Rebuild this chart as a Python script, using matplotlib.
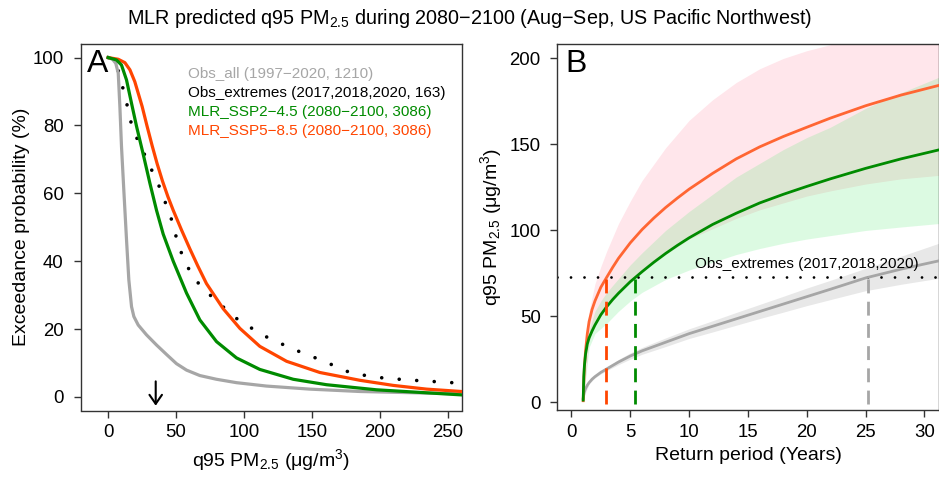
import numpy as np
import matplotlib
matplotlib.use("Agg")
import matplotlib.pyplot as plt

plt.rcParams['font.family'] = ['Liberation Sans', 'DejaVu Sans']
plt.rcParams['mathtext.fontset'] = 'custom'
plt.rcParams['mathtext.rm'] = 'Liberation Sans'
plt.rcParams['mathtext.it'] = 'Liberation Sans:italic'
plt.rcParams['mathtext.bf'] = 'Liberation Sans:bold'

# ---------------- Panel A data: exceedance probability (%) vs q95 PM2.5 ----------------
ssp585_x = [0, 7.4, 12.3, 16.0, 19.6, 25.0, 28.5, 32.4, 36, 40, 44, 47.9, 54, 60.2, 66, 72.4, 84.7, 97.0,
            111.7, 131.4, 155.9, 185.4, 209.9, 234.5, 260.2]
ssp585_y = [100, 99.5, 98.5, 96.4, 92.9, 85.6, 80.0, 74.0, 68.8, 63.6, 59.0, 55.0, 49.2, 43.6, 38.6, 33.4, 26.0, 20.2,
            14.9, 10.5, 7.2, 4.9, 3.4, 2.3, 1.6]

ssp245_x = [0, 6.1, 9.8, 13.5, 17.2, 20.9, 25.8, 30.7, 35.6, 40.5, 47.9, 57.7, 67.5, 79.8,
            94.5, 111.7, 136.3, 160.8, 197.6, 260.2]
ssp245_y = [100, 99.3, 97.8, 93.4, 86.5, 79.7, 71.5, 63.0, 55.0, 48.0, 40.0, 30.6, 22.7, 16.3,
            11.5, 8.1, 5.2, 3.6, 2.1, 0.6]

obsall_x = [0, 3.2, 5.6, 7.4, 8.6, 9.8, 11.5, 13.5, 15.2, 17.2, 18.9, 22.1, 28.2, 35.6, 43.0,
            50.3, 57.7, 67.5, 79.8, 94.5, 116.6, 148.5, 185.4, 260.2]
obsall_y = [100, 99.5, 98.3, 95.4, 85.6, 73.8, 61.0, 46.3, 34.5, 26.6, 23.7, 21.2, 18.3, 15.3, 12.5,
            9.8, 7.9, 6.3, 5.2, 4.2, 3.2, 2.3, 1.6, 0.9]

obsext_x = [0, 6.1, 12.5, 17.9, 27.5, 37.3, 45.9, 52.3, 62.1, 78.1, 95.8, 114.4, 135.5, 158.4,
            179.7, 204, 228.8, 253.6, 260]
obsext_y = [100, 98.1, 88.5, 79, 70.8, 62.3, 53.3, 43.9, 35.3, 28.8, 22.7, 18.1, 14.2, 10.6,
            6.9, 5.5, 4.8, 4.2, 4.1]

legend_labels = ["Obs_all (1997\u22122020, 1210)",
                 "Obs_extremes (2017,2018,2020, 163)",
                 "MLR_SSP2\u22124.5 (2080\u22122100, 3086)",
                 "MLR_SSP5\u22128.5 (2080\u22122100, 3086)"]
arrow_x = 35

# ---------------- Panel B data: return level vs return period ----------------
rp = [1, 1.05, 1.1, 1.2, 1.35, 1.5, 1.75, 2, 2.5, 3, 3.5, 4, 5, 6, 7, 8, 9, 10,
      12, 14, 16, 18, 20, 22, 25, 28, 31.2]
rl_ssp585 = [1, 12, 20, 30, 40, 47, 54, 59, 67, 72.8, 78.5, 83.8, 92.8, 100.5, 107.2, 113.3, 118.8, 124,
             133.2, 141.6, 148.6, 154.6, 160, 165.3, 172.5, 178.7, 184.3]
rl_ssp245 = [1.4, 15, 21, 28, 34, 37.5, 41.5, 45, 51, 55.7, 59.8, 63.5, 70.2, 76, 81.5, 86.6, 91.3, 95.7,
             103.5, 110, 116, 121, 125.6, 130, 136.1, 141.6, 146.8]
rl_obs = [2.3, 4.5, 6, 8, 10, 11.5, 13.5, 15, 17.5, 19.5, 21.5, 23.5, 27, 30, 32.5, 35, 37.5, 40,
          44.3, 48.6, 52.9, 57.2, 61.5, 65.8, 72.4, 77.5, 82.3]

ci_rp = [1, 1.5, 2, 2.5, 3, 4, 5, 6, 8, 10, 12, 14, 16, 18, 20, 22, 25, 28, 31.2]
ci585_hi = [1, 53, 69, 79, 88, 104, 117, 129, 148, 164, 176, 186, 194, 200, 204.5, 208, 214, 220, 226]
ci585_lo = [1, 36, 45, 50, 55, 63, 70, 76, 86, 95, 101, 107, 112, 116, 120, 123, 127, 130, 132]
ci245_hi = [1.4, 42, 53, 59, 64, 72, 80, 87, 100, 111, 121, 131, 139, 147, 154, 160, 171, 180, 189]
ci245_lo = [1.4, 32, 40, 43, 46, 53, 59, 64, 71.5, 77, 81.5, 86, 89.5, 92.5, 95, 97, 100, 102, 104]
ciobs_hi = [2.3, 12.2, 15.7, 18.2, 20.5, 25, 28.8, 32, 37.5, 42.8, 47.5, 52.3, 57, 61.7, 66.5, 71, 78, 85, 92.5]
ciobs_lo = [2.3, 10.8, 14.3, 16.6, 18.5, 22, 25.2, 28, 32.5, 37.2, 41, 44.9, 48.8, 52.5, 56.3, 59.8, 65, 68.7, 72.2]

obs_ext_level = 72.7
cross_rp = [2.97, 5.42, 25.2]

RED = '#FF4500'
RED_B = '#FF6633'
GREEN = '#008B00'
GRAY = '#A6A6A6'

fig = plt.figure(figsize=(9.39, 4.78), dpi=100)
W, H = 939, 478

def add_ax(l, r, t, b):
    return fig.add_axes([l / W, 1 - b / H, (r - l) / W, (b - t) / H])

axA = add_ax(80.5, 461.7, 44.0, 410.5)
axB = add_ax(557.3, 938.6, 44.0, 410.2)

dot_style = (0, (0.01, 4.85))

# ---- Panel A ----
axA.plot(obsext_x, obsext_y, color='black', lw=2.6, linestyle=dot_style, dash_capstyle='round', zorder=2)
axA.plot(obsall_x, obsall_y, color=GRAY, lw=2.3, zorder=3)
axA.plot(ssp585_x, ssp585_y, color=RED, lw=2.3, zorder=3)
axA.plot(ssp245_x, ssp245_y, color=GREEN, lw=2.3, zorder=4)
axA.annotate('', xy=(arrow_x, -3.4), xytext=(arrow_x, 5.4),
             arrowprops=dict(arrowstyle='->,head_length=0.65,head_width=0.45', lw=1.5, color='black'))
axA.set_xlim(-20.4, 260.4)
axA.set_ylim(-4.0, 104.0)
axA.set_xticks([0, 50, 100, 150, 200, 250])
axA.set_yticks([0, 20, 40, 60, 80, 100])
axA.text(0.018, 0.985, 'A', transform=axA.transAxes, fontsize=23, va='top', ha='left')
leg_colors = [GRAY, 'black', GREEN, RED]
for i, (lab, c) in enumerate(zip(legend_labels, leg_colors)):
    fig.text(188.3 / W, 1 - (74.3 + 19 * i) / H, lab, color=c, fontsize=11, va='center', ha='left')
axA.set_xlabel('q95 PM$_{2.5}$ (\u03bcg/m$^3$)', fontsize=14)
axA.set_ylabel('Exceedance probability (%)', fontsize=14, labelpad=2)

# ---- Panel B ----
axB.fill_between(ci_rp, ciobs_lo, ciobs_hi, color='#E8E8E8', lw=0, zorder=1)
axB.fill_between(ci_rp, ci585_lo, ci585_hi, color='#FFE6EB', lw=0, zorder=1)
axB.fill_between(ci_rp, ci245_lo, ci245_hi, color=(40 / 255, 230 / 255, 80 / 255), alpha=0.16, lw=0, zorder=1)
axB.axhline(obs_ext_level, color='black', lw=2.0, linestyle=dot_style, dash_capstyle='round', zorder=2)
axB.plot(rp, rl_obs, color=GRAY, lw=2.0, zorder=3)
axB.plot(rp, rl_ssp585, color=RED_B, lw=2.0, zorder=3)
axB.plot(rp, rl_ssp245, color=GREEN, lw=2.0, zorder=4)
for xv, c in zip(cross_rp, [RED, GREEN, GRAY]):
    axB.plot([xv, xv], [-1, obs_ext_level], color=c, lw=2.0, linestyle=(0, (5, 3)), zorder=4)
axB.text(20.0, 80.4, 'Obs_extremes (2017,2018,2020)', fontsize=11, ha='center', va='center')
axB.set_xlim(-1.2, 31.2)
axB.set_ylim(-4.5, 208.4)
axB.set_xticks([0, 5, 10, 15, 20, 25, 30])
axB.set_yticks([0, 50, 100, 150, 200])
axB.text(0.022, 0.985, 'B', transform=axB.transAxes, fontsize=23, va='top', ha='left')
axB.set_xlabel('Return period (Years)', fontsize=14)
axB.set_ylabel('q95 PM$_{2.5}$ (\u03bcg/m$^3$)', fontsize=14)

for ax in (axA, axB):
    for s in ax.spines.values():
        s.set_color('#333333')
        s.set_linewidth(1.0)
    ax.tick_params(axis='both', direction='out', length=5, width=1.0, color='#333333', labelsize=13.4)
    ax.tick_params(axis='x', pad=5)
    ax.tick_params(axis='y', pad=7)

fig.text(469.5 / W, 1 - 18.5 / H,
         'MLR predicted q95 PM$_{2.5}$ during 2080\u22122100 (Aug\u2212Sep, US Pacific Northwest)',
         fontsize=14.2, ha='center', va='center')

fig.savefig('out.png', dpi=100)
